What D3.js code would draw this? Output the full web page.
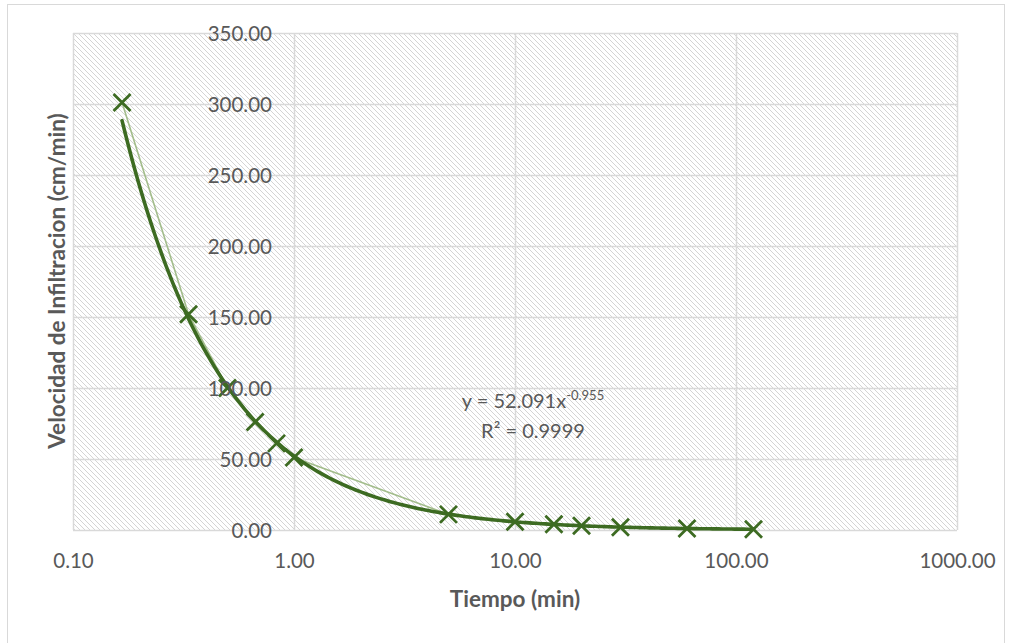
<!DOCTYPE html>
<html><head><meta charset="utf-8">
<script src="https://cdn.jsdelivr.net/npm/d3@7"></script>
<style>
body{margin:0;background:#fff;}
text{font-family:Lato,"Noto Sans",sans-serif;}
</style>
</head><body>
<svg id="chart" width="1013" height="643"></svg>
<script>
// ---- data ----
const timeMin  = [0.1667, 0.3333, 0.5, 0.6667, 0.8333, 1, 5, 10, 15, 20, 30, 60, 120];
const velocity = [301, 152, 100, 76, 61, 51, 11, 5.8, 4.0, 3.0, 2.0, 1.0, 0.5];
const xTickValues = [0.1, 1, 10, 100, 1000];
const yTickValues = [0, 50, 100, 150, 200, 250, 300, 350];
const trendCoefA = 52.091;
const trendExpB = -0.955;
const eqText = "y = 52.091x";
const eqExpText = "-0.955";
const r2Text = "R² = 0.9999";
const xTitle = "Tiempo (min)";
const yTitle = "Velocidad de Infiltracion (cm/min)";

// ---- layout ----
const m = {left: 73, right: 957, top: 33, bottom: 530};
const svg = d3.select("#chart");

const x = d3.scaleLog().domain([0.1, 1000]).range([m.left, m.right]);
const y = d3.scaleLinear().domain([0, 350]).range([m.bottom, m.top]);

// outer chart border
svg.append("rect").attr("x", 7.5).attr("y", 4.5).attr("width", 997).attr("height", 660)
  .attr("fill", "#fff").attr("stroke", "#d9d9d9").attr("stroke-width", 1);

// hatch pattern (light downward diagonal)
const defs = svg.append("defs");
const P = 5;
const pat = defs.append("pattern").attr("id", "hatch").attr("patternUnits", "userSpaceOnUse")
  .attr("width", P).attr("height", P);
pat.append("rect").attr("width", P).attr("height", P).attr("fill", "#ffffff");
d3.range(P).forEach(i => pat.append("rect").attr("x", i).attr("y", i).attr("width", 1).attr("height", 1).attr("fill", "#d4d4d4"));

svg.append("rect").attr("x", m.left).attr("y", m.top)
  .attr("width", m.right - m.left).attr("height", m.bottom - m.top)
  .attr("fill", "url(#hatch)");

// gridlines
const grid = svg.append("g");
grid.selectAll(".gy").data(yTickValues).join("line")
  .attr("x1", m.left).attr("x2", m.right)
  .attr("y1", d => Math.round(y(d)) + 0.5).attr("y2", d => Math.round(y(d)) + 0.5)
  .attr("stroke", "#d9d9d9").attr("stroke-width", 1.5);
grid.selectAll(".gx").data(xTickValues).join("line")
  .attr("y1", m.top).attr("y2", m.bottom)
  .attr("x1", d => Math.round(x(d)) + 0.5).attr("x2", d => Math.round(x(d)) + 0.5)
  .attr("stroke", "#d9d9d9").attr("stroke-width", 1.5);

// data series line (thin, lighter)
const pts = timeMin.map((t, i) => [t, velocity[i]]);
svg.append("path").datum(pts)
  .attr("d", d3.line().x(d => x(d[0])).y(d => y(d[1])))
  .attr("fill", "none").attr("stroke", "#a3bd8c").attr("stroke-width", 1.6);

// power trendline
const tMin = d3.min(timeMin), tMax = d3.max(timeMin);
const trendPts = d3.range(0, 201).map(i => {
  const t = Math.pow(10, Math.log10(tMin) + (Math.log10(tMax) - Math.log10(tMin)) * i / 200);
  return [t, trendCoefA * Math.pow(t, trendExpB)];
});
svg.append("path").datum(trendPts)
  .attr("d", d3.line().x(d => x(d[0])).y(d => y(d[1])))
  .attr("fill", "none").attr("stroke", "#3d6b22").attr("stroke-width", 3.6)
  .attr("stroke-linecap", "round").attr("stroke-linejoin", "round");

// markers
const s = 8.5;
const mk = svg.append("g").selectAll("g").data(pts).join("g")
  .attr("transform", d => `translate(${x(d[0])},${y(d[1])})`);
mk.append("path").attr("d", `M${-s},${-s}L${s},${s}M${-s},${s}L${s},${-s}`)
  .attr("stroke", "#3d6b22").attr("stroke-width", 2.8).attr("fill", "none");

// axes labels
const tc = "#595959";
const yAxis = d3.axisLeft(y).tickValues(yTickValues).tickFormat(d3.format(".2f")).tickSize(0).tickPadding(0);
const gy = svg.append("g").attr("transform", "translate(272,0)").call(yAxis);
gy.select(".domain").remove();
gy.selectAll("text").attr("fill", tc).style("font-size", "20.5px").style("font-family", "Lato").attr("dy", "0.35em");

const xAxis = d3.axisBottom(x).tickValues(xTickValues).tickFormat(d3.format(".2f")).tickSize(0).tickPadding(0);
const gx = svg.append("g").attr("transform", "translate(0,553)").call(xAxis);
gx.select(".domain").remove();
gx.selectAll("text").attr("fill", tc).style("font-size", "20.5px").style("font-family", "Lato").attr("dy", "0.71em");

// axis titles
svg.append("text").attr("x", 515).attr("y", 607).attr("text-anchor", "middle")
  .attr("fill", tc).style("font-size", "22.5px").style("font-weight", "bold").text(xTitle);
svg.append("text").attr("transform", "translate(65,281) rotate(-90)").attr("text-anchor", "middle")
  .attr("fill", tc).style("font-size", "22.5px").style("font-weight", "bold").text(yTitle);

// trendline label
const eq = svg.append("text").attr("x", 533).attr("y", 408).attr("text-anchor", "middle")
  .attr("fill", tc).style("font-size", "20px");
eq.append("tspan").text(eqText);
eq.append("tspan").attr("dy", -8).style("font-size", "13px").text(eqExpText);
svg.append("text").attr("x", 533).attr("y", 438).attr("text-anchor", "middle")
  .attr("fill", tc).style("font-size", "20px").text(r2Text);
</script>
</body></html>
